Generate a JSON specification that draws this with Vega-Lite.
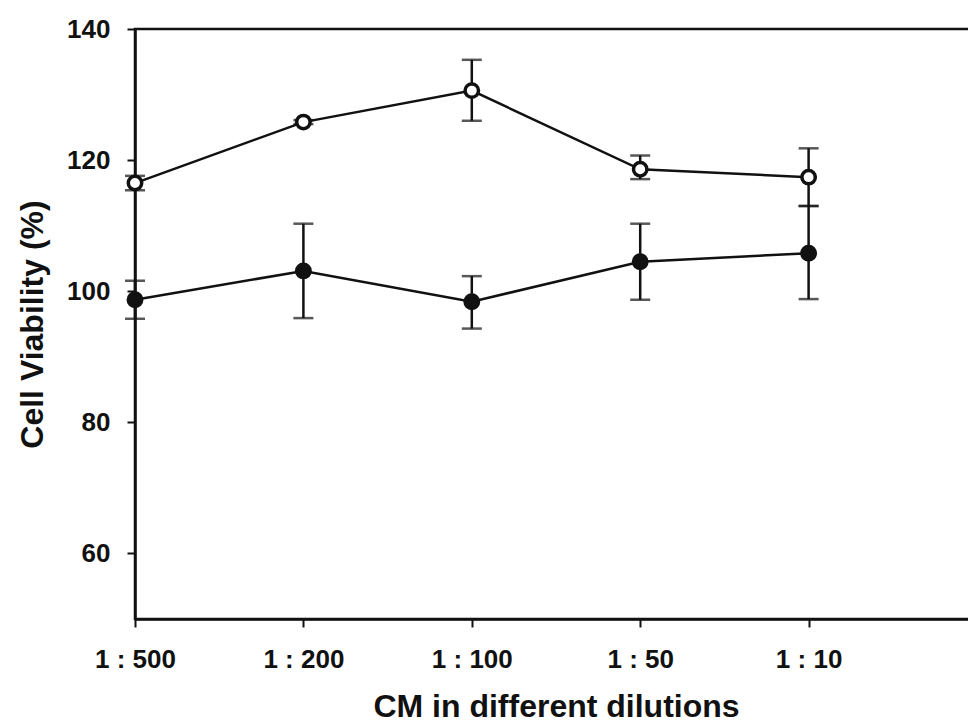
{
  "$schema": "https://vega.github.io/schema/vega-lite/v6.json",
  "width": 842,
  "height": 590,
  "autosize": {"type": "none"},
  "padding": {"left": 135, "top": 29, "right": 0, "bottom": 109},
  "background": "white",
  "config": {
    "view": {"stroke": "#111", "strokeWidth": 2.5},
    "font": "Liberation Sans",
    "axis": {
      "domainColor": "#111", "domainWidth": 2.5, "tickColor": "#111", "tickWidth": 2,
      "labelColor": "#111", "titleColor": "#111", "grid": false,
      "labelFont": "Liberation Sans", "titleFont": "Liberation Sans",
      "labelFontWeight": "bold", "titleFontWeight": "bold",
      "labelFontSize": 26, "titleFontSize": 32, "tickSize": 8
    }
  },
  "data": {
    "values": [
      {"pos": 0, "series": "open", "mean": 116.5, "lo": 115.4, "hi": 117.6},
      {"pos": 1, "series": "open", "mean": 125.8, "lo": 125.5, "hi": 126.1},
      {"pos": 2, "series": "open", "mean": 130.6, "lo": 126.0, "hi": 135.3},
      {"pos": 3, "series": "open", "mean": 118.6, "lo": 117.1, "hi": 120.7},
      {"pos": 4, "series": "open", "mean": 117.4, "lo": 113.0, "hi": 121.8},
      {"pos": 0, "series": "filled", "mean": 98.7, "lo": 95.8, "hi": 101.6},
      {"pos": 1, "series": "filled", "mean": 103.1, "lo": 95.9, "hi": 110.3},
      {"pos": 2, "series": "filled", "mean": 98.4, "lo": 94.3, "hi": 102.3},
      {"pos": 3, "series": "filled", "mean": 104.5, "lo": 98.7, "hi": 110.3},
      {"pos": 4, "series": "filled", "mean": 105.8, "lo": 98.8, "hi": 113.0}
    ]
  },
  "encoding": {
    "x": {
      "field": "pos", "type": "quantitative",
      "scale": {"domain": [0, 5], "nice": false, "zero": false},
      "axis": {
        "title": "CM in different dilutions",
        "values": [0, 1, 2, 3, 4],
        "labelExpr": "['1 : 500','1 : 200','1 : 100','1 : 50','1 : 10'][datum.value]",
        "labelPadding": 19, "titlePadding": 19, "labelFlush": false
      }
    }
  },
  "layer": [
    {
      "mark": {"type": "rule", "color": "#111", "strokeWidth": 2.5},
      "encoding": {
        "y": {"field": "lo", "type": "quantitative",
          "scale": {"domain": [50, 140], "nice": false, "zero": false},
          "axis": {"title": "Cell Viability (%)", "values": [60, 80, 100, 120, 140], "labelPadding": 17, "titlePadding": 17}},
        "y2": {"field": "hi"}
      }
    },
    {
      "mark": {"type": "tick", "orient": "horizontal", "color": "#111", "size": 20, "thickness": 2.5},
      "encoding": {"y": {"field": "lo", "type": "quantitative"}}
    },
    {
      "mark": {"type": "tick", "orient": "horizontal", "color": "#111", "size": 20, "thickness": 2.5},
      "encoding": {"y": {"field": "hi", "type": "quantitative"}}
    },
    {
      "mark": {"type": "line", "color": "#111", "strokeWidth": 2.5},
      "encoding": {
        "y": {"field": "mean", "type": "quantitative"},
        "detail": {"field": "series"}
      }
    },
    {
      "mark": {"type": "point", "shape": "circle", "filled": false, "stroke": "#111", "strokeWidth": 3.5, "size": 180, "opacity": 1},
      "encoding": {
        "y": {"field": "mean", "type": "quantitative"},
        "fill": {"field": "series", "type": "nominal", "scale": {"domain": ["open", "filled"], "range": ["white", "#111"]}, "legend": null}
      }
    }
  ]
}
